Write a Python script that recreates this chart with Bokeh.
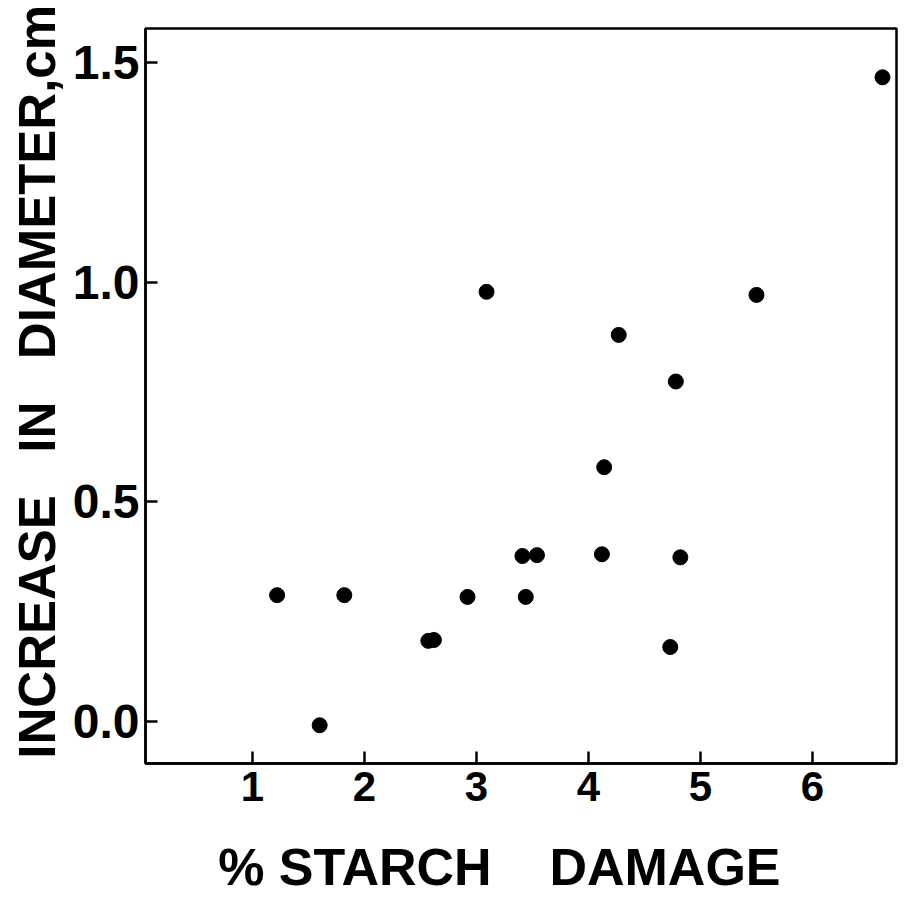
from bokeh.plotting import figure
from bokeh.models import FixedTicker, PrintfTickFormatter, Range1d
from bokeh.embed import file_html
from bokeh.resources import INLINE

# Data
starch_damage = [1.22, 1.60, 1.82, 2.57, 2.62, 2.92, 3.09, 3.41, 3.44, 3.54,
                 4.12, 4.14, 4.27, 4.73, 4.78, 4.82, 5.50, 6.625]
diameter_increase = [0.288, -0.008, 0.288, 0.184, 0.186, 0.284, 0.978, 0.377, 0.284, 0.379,
                     0.381, 0.579, 0.880, 0.170, 0.774, 0.374, 0.971, 1.466]
x_ticks = [1, 2, 3, 4, 5, 6]
y_ticks = [0.0, 0.5, 1.0, 1.5]

NB = "\u00a0"
p = figure(width=898, height=898, output_backend="svg", toolbar_location=None,
           x_range=Range1d(0.045, 6.75), y_range=Range1d(-0.095, 1.577),
           min_border_left=145, min_border_top=28, min_border_right=2, min_border_bottom=133)

p.scatter(starch_damage, diameter_increase, size=15, color="black")

p.grid.visible = False
p.outline_line_color = "black"
p.outline_line_width = 2.5
p.outline_line_alpha = 1.0

for ax in (p.xaxis[0], p.yaxis[0]):
    ax.axis_line_width = 2.5
    ax.axis_line_color = "black"
    ax.major_tick_in = 12
    ax.major_tick_out = 0
    ax.major_tick_line_width = 2.5
    ax.major_tick_line_color = "black"
    ax.minor_tick_line_color = None
    ax.major_label_text_color = "black"
    ax.axis_label_text_color = "black"
    ax.axis_label_text_font = "Liberation Sans"
    ax.axis_label_text_font_style = "bold"
    ax.axis_label_text_line_height = 0.9

p.xaxis.axis_label_text_font_size = "52px"
p.yaxis.axis_label_text_font_size = "51px"

p.xaxis.ticker = FixedTicker(ticks=x_ticks)
p.yaxis.ticker = FixedTicker(ticks=y_ticks)
p.yaxis.formatter = PrintfTickFormatter(format="%.1f")

p.xaxis.major_label_text_font = "Liberation Sans"
p.xaxis.major_label_text_font_style = "bold"
p.xaxis.major_label_text_font_size = "42px"
p.xaxis.major_label_standoff = 8

p.yaxis.major_label_text_font = "Liberation Sans"
p.yaxis.major_label_text_font_style = "bold"
p.yaxis.major_label_text_font_size = "48px"
p.yaxis.major_label_standoff = 6

p.xaxis.axis_label = "% STARCH" + NB * 4 + "DAMAGE" + NB * 3
p.xaxis.axis_label_standoff = 34
p.yaxis.axis_label = NB * 2 + "INCREASE" + NB * 3 + "IN" + NB * 3 + "DIAMETER,cm"
p.yaxis.axis_label_standoff = 4

open("out.html", "w").write(file_html(p, INLINE))
